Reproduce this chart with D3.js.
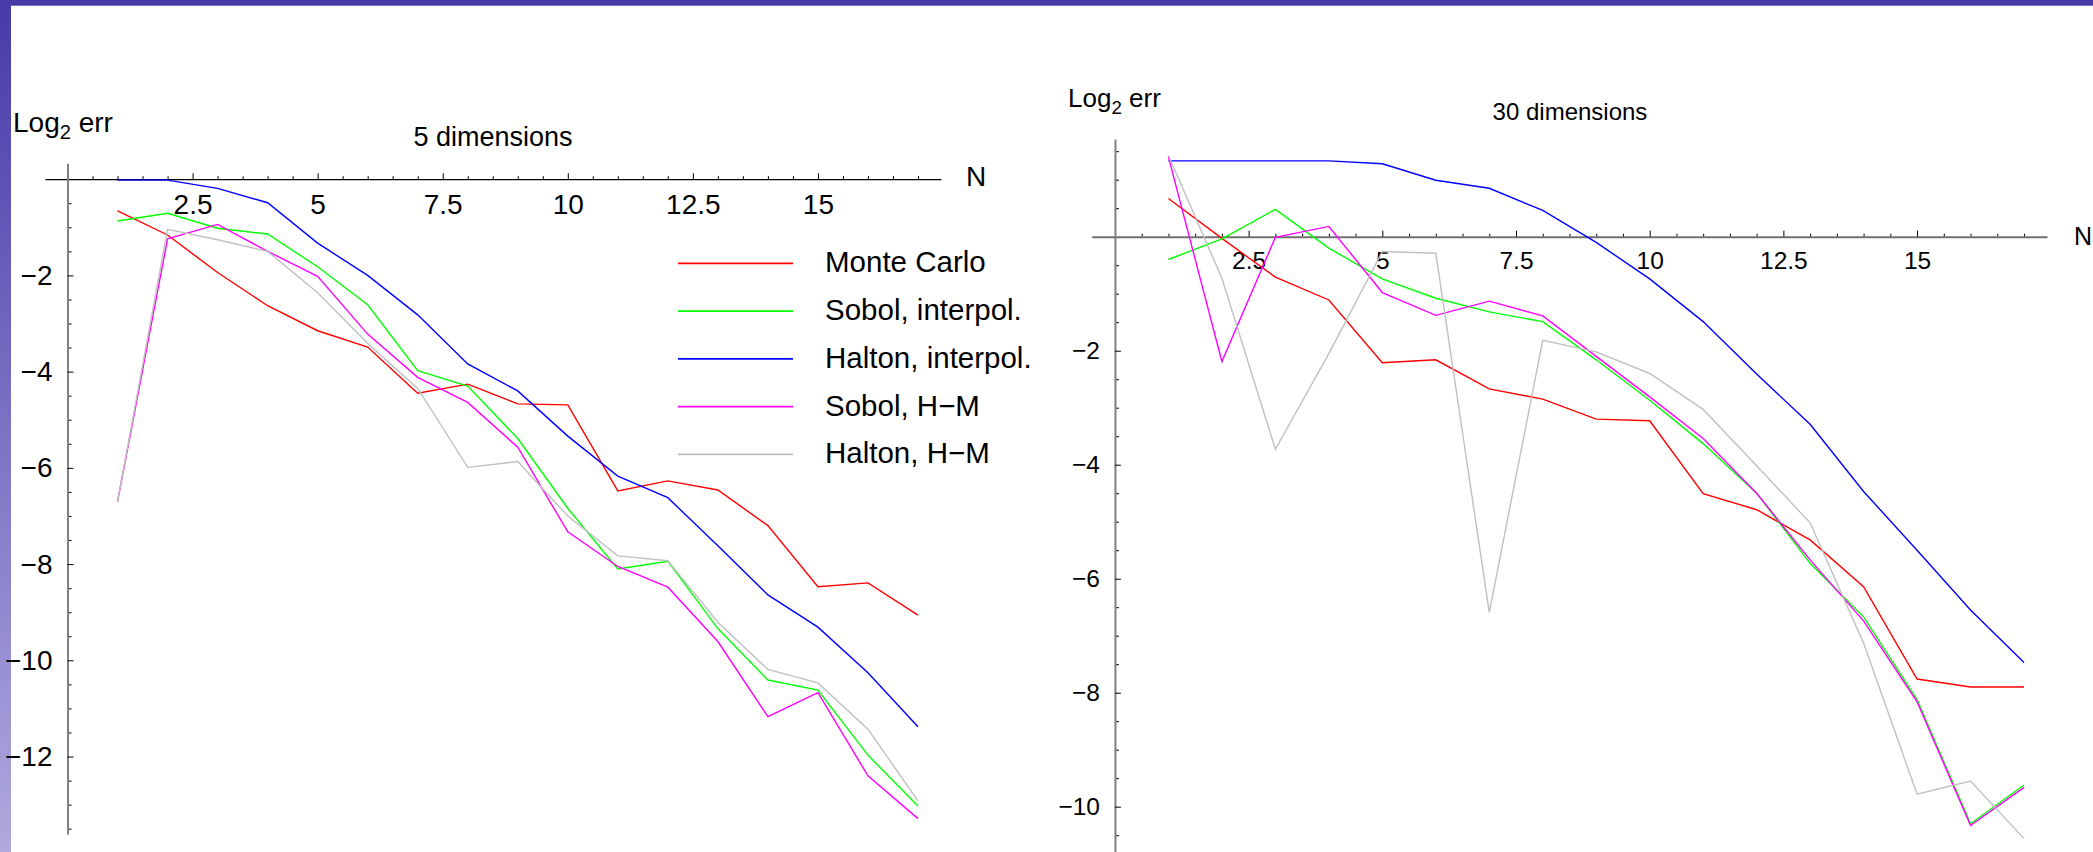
<!DOCTYPE html>
<html>
<head>
<meta charset="utf-8">
<script src="https://cdn.jsdelivr.net/npm/d3@7"></script>
<style>
  body { margin: 0; background: #fff; }
  svg { display: block; font-family: "Liberation Sans", Arial, Helvetica, sans-serif; }
</style>
</head>
<body>
<svg id="chart"></svg>
<script>
// Data (log2 of the error against N)
const nValues = [1, 2, 3, 4, 5, 6, 7, 8, 9, 10, 11, 12, 13, 14, 15, 16, 17];

const seriesNames = ["Monte Carlo", "Sobol, interpol.", "Halton, interpol.", "Sobol, H\u2212M", "Halton, H\u2212M"];
const seriesColors = ["#ff0000", "#00ff00", "#0000ff", "#ff00ff", "#c0c0c0"];

// 5 dimensions
const d5MonteCarlo = [-0.66, -1.16, -1.94, -2.63, -3.15, -3.49, -4.45, -4.26, -4.67, -4.69, -6.48, -6.27, -6.46, -7.20, -8.47, -8.39, -9.06];
const d5SobolInterp = [-0.87, -0.71, -1.02, -1.14, -1.82, -2.61, -3.98, -4.30, -5.39, -6.84, -8.10, -7.94, -9.34, -10.41, -10.62, -11.97, -13.03];
const d5HaltonInterp = [-0.02, -0.02, -0.19, -0.49, -1.33, -2.00, -2.82, -3.84, -4.40, -5.34, -6.17, -6.62, -7.62, -8.64, -9.31, -10.26, -11.38];
const d5SobolHM = [-6.70, -1.24, -0.94, -1.50, -2.02, -3.22, -4.12, -4.64, -5.57, -7.33, -8.05, -8.48, -9.61, -11.17, -10.67, -12.40, -13.29];
const d5HaltonHM = [-6.70, -1.04, -1.26, -1.50, -2.36, -3.41, -4.35, -5.99, -5.87, -7.00, -7.83, -7.93, -9.21, -10.19, -10.47, -11.43, -12.92];

// 30 dimensions
const d30MonteCarlo = [0.67, -0.03, -0.71, -1.11, -2.21, -2.16, -2.67, -2.85, -3.20, -3.23, -4.51, -4.79, -5.32, -6.14, -7.76, -7.90, -7.90];
const d30SobolInterp = [-0.40, -0.04, 0.48, -0.20, -0.74, -1.08, -1.32, -1.49, -2.16, -2.87, -3.63, -4.50, -5.73, -6.67, -8.12, -10.30, -9.62];
const d30HaltonInterp = [1.33, 1.33, 1.33, 1.33, 1.28, 0.99, 0.85, 0.46, -0.10, -0.74, -1.49, -2.41, -3.29, -4.47, -5.50, -6.55, -7.47];
const d30SobolHM = [1.40, -2.19, -0.01, 0.18, -0.98, -1.38, -1.13, -1.39, -2.10, -2.81, -3.54, -4.50, -5.67, -6.74, -8.16, -10.33, -9.66];
const d30HaltonHM = [1.43, -0.73, -3.73, -2.05, -0.26, -0.29, -6.59, -1.82, -2.02, -2.40, -3.03, -4.02, -5.02, -7.13, -9.78, -9.55, -10.56];

// Tick labels
const xMajorTicks = [2.5, 5, 7.5, 10, 12.5, 15];
const yMajorTicks5 = [-2, -4, -6, -8, -10, -12];
const yMajorTicks30 = [-2, -4, -6, -8, -10];

const width = 2093;
const height = 852;
const fmt = d3.format("");

const svg = d3.select("#chart")
    .attr("width", width)
    .attr("height", height)
    .attr("viewBox", `0 0 ${width} ${height}`);

// slide frame (purple bar on top, gradient strip on the left)
const grad = svg.append("defs").append("linearGradient")
    .attr("id", "strip").attr("x1", 0).attr("y1", 0).attr("x2", 0).attr("y2", 1);
grad.append("stop").attr("offset", "0%").attr("stop-color", "#473ba9");
grad.append("stop").attr("offset", "100%").attr("stop-color", "#afa9dd");

svg.append("rect").attr("width", width).attr("height", height).attr("fill", "#fff");
svg.append("rect").attr("x", 0).attr("y", 0).attr("width", width).attr("height", 5).attr("fill", "#473ba9");
svg.append("line").attr("x1", 11).attr("x2", width).attr("y1", 5.5).attr("y2", 5.5)
    .attr("stroke", "#7b72c9").attr("stroke-width", 1);
svg.append("rect").attr("x", 0).attr("y", 0).attr("width", 11).attr("height", height).attr("fill", "url(#strip)");

function drawPanel(p) {
    const g = svg.append("g");

    // scales: domains are the visible axis extents
    const x = d3.scaleLinear().domain(p.xDomain).range(p.xRange);
    const y = d3.scaleLinear().domain(p.yDomain).range(p.yRange);

    const xMinor = d3.range(0.5, 17.01, 0.5).filter(v => !xMajorTicks.includes(v));
    const yMinor = d3.range(p.yMinorTop, p.yMinorBottom - 0.01, -0.5)
        .filter(v => v !== 0 && !p.yTicks.includes(v));

    // x axis
    g.append("g")
        .attr("transform", `translate(0,${y(0)})`)
        .style("color", "#000")
        .call(d3.axisBottom(x).tickValues(xMinor).tickSize(-3).tickFormat(""))
        .call(a => a.select(".domain").remove());

    g.append("g")
        .attr("transform", `translate(0,${y(0)})`)
        .style("color", "#000")
        .call(d3.axisBottom(x).tickValues(xMajorTicks).tickFormat(fmt)
            .tickSize(-6).tickSizeOuter(0).tickPadding(p.xPad))
        .call(a => a.select(".domain").attr("stroke", p.xAxisColor).attr("stroke-width", p.xAxisWidth))
        .call(a => a.selectAll("text").attr("font-size", p.tickFont).attr("font-family", null));

    // y axis
    g.append("g")
        .attr("transform", `translate(${x(0)},0)`)
        .style("color", "#000")
        .call(d3.axisLeft(y).tickValues(yMinor).tickSize(-4).tickFormat(""))
        .call(a => a.select(".domain").remove());

    g.append("g")
        .attr("transform", `translate(${x(0)},0)`)
        .style("color", "#000")
        .call(d3.axisLeft(y).tickValues(p.yTicks).tickFormat(fmt)
            .tickSize(-6).tickSizeOuter(0).tickPadding(15))
        .call(a => a.select(".domain").attr("stroke", "#808080").attr("stroke-width", 2))
        .call(a => a.selectAll("text").attr("font-size", p.tickFont).attr("font-family", null));

    g.selectAll(".tick line").attr("stroke-width", 1);

    // axis labels and title
    const yl = g.append("text")
        .attr("x", p.yLabelX).attr("y", p.yLabelY)
        .attr("font-size", p.labelFont).attr("fill", "#000");
    yl.append("tspan").text("Log");
    yl.append("tspan").attr("font-size", p.labelFont * 0.72).attr("dy", p.labelFont * 0.28).text("2");
    yl.append("tspan").attr("dy", -p.labelFont * 0.28).text(" err");

    g.append("text")
        .attr("x", p.titleX).attr("y", p.titleY)
        .attr("text-anchor", "middle")
        .attr("font-size", p.titleFont).attr("fill", "#000")
        .text(p.title);

    g.append("text")
        .attr("x", p.nLabelX).attr("y", p.nLabelY)
        .attr("font-size", p.nFont).attr("fill", "#000")
        .text("N");

    // series
    const line = d3.line()
        .x((d, i) => x(nValues[i]))
        .y(d => y(d));

    g.selectAll(".series")
        .data(p.series)
        .join("path")
        .attr("class", "series")
        .attr("d", d => line(d))
        .attr("fill", "none")
        .attr("stroke", (d, i) => seriesColors[i])
        .attr("stroke-width", 1.4);
}

drawPanel({
    xDomain: [-0.45, 17.46], xRange: [45, 941],
    yDomain: [0.33, -13.61], yRange: [163.3, 834],
    yMinorTop: 0, yMinorBottom: -13.5,
    yTicks: yMajorTicks5,
    xPad: 15, tickFont: 28,
    xAxisColor: "#000", xAxisWidth: 1.2,
    yLabelX: 13, yLabelY: 131.5, labelFont: 28,
    title: "5 dimensions", titleX: 493, titleY: 145.5, titleFont: 27,
    nLabelX: 966, nLabelY: 186, nFont: 28,
    series: [d5MonteCarlo, d5SobolInterp, d5HaltonInterp, d5SobolHM, d5HaltonHM]
});

drawPanel({
    xDomain: [-0.435, 17.43], xRange: [1091.7, 2047],
    yDomain: [1.714, -10.795], yRange: [139, 852],
    yMinorTop: 1.5, yMinorBottom: -10.5,
    yTicks: yMajorTicks30,
    xPad: 15, tickFont: 24.5,
    xAxisColor: "#707070", xAxisWidth: 2,
    yLabelX: 1068, yLabelY: 106.5, labelFont: 26,
    title: "30 dimensions", titleX: 1570, titleY: 120, titleFont: 24,
    nLabelX: 2074, nLabelY: 245, nFont: 25,
    series: [d30MonteCarlo, d30SobolInterp, d30HaltonInterp, d30SobolHM, d30HaltonHM]
});

// legend (in the 5 dimensions panel)
const legend = svg.append("g").attr("transform", "translate(678,263.3)");
const rows = legend.selectAll("g")
    .data(seriesNames)
    .join("g")
    .attr("transform", (d, i) => `translate(0,${i * 47.75})`);
rows.append("line")
    .attr("x1", 0).attr("x2", 115)
    .attr("stroke", (d, i) => seriesColors[i])
    .attr("stroke-width", 1.8);
rows.append("text")
    .attr("x", 147).attr("y", 9)
    .attr("font-size", 29.5).attr("fill", "#000")
    .text(d => d);
</script>
</body>
</html>
